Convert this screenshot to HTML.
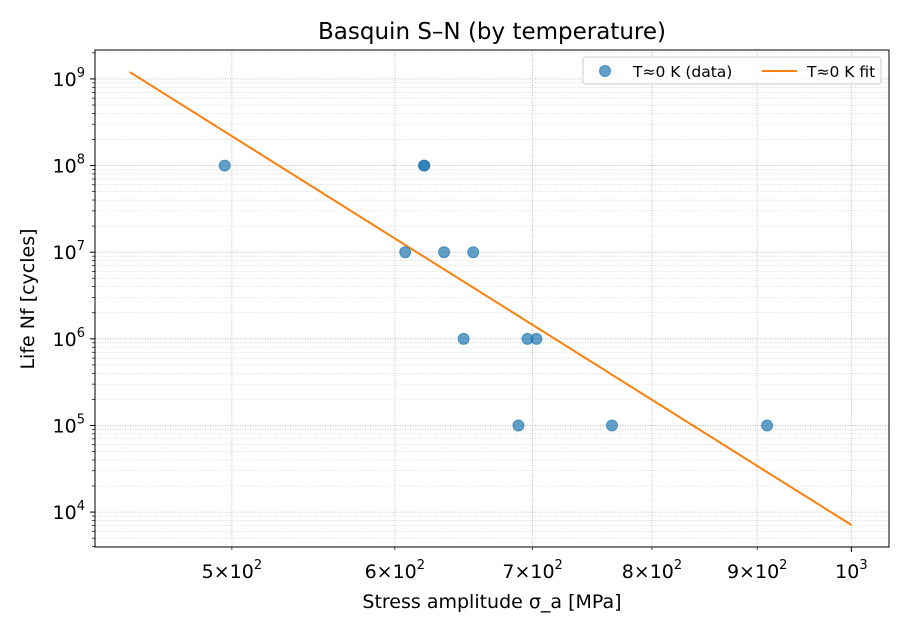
<!DOCTYPE html>
<html><head><meta charset="utf-8"><style>
body{margin:0;background:#fff}
svg{display:block;font-family:"DejaVu Sans","Liberation Sans",sans-serif}
</style></head><body>
<svg id="chart" width="910" height="630" viewBox="0 0 910 630">
<rect width="910" height="630" fill="#fff"/>
<g id="grid"></g>
<g id="fit"></g>
<g id="pts"></g>
<rect x="95" y="50" width="794" height="497" fill="none" stroke="#000" stroke-width="1"/>
<g id="axes"></g>
<text x="492" y="39" text-anchor="middle" font-size="23">Basquin S–N (by temperature)</text>
<text x="492" y="608" text-anchor="middle" font-size="19">Stress amplitude σ_a [MPa]</text>
<text transform="translate(34,299) rotate(-90)" text-anchor="middle" font-size="19">Life Nf [cycles]</text>
<g>
<rect x="583" y="57" width="298" height="27" rx="3" fill="#fff" fill-opacity="0.8" stroke="#ccc"/>
<circle cx="605" cy="71" r="5.5" fill="#1f77b4" fill-opacity="0.7" stroke="#1f77b4" stroke-opacity="0.7"/>
<text x="633" y="77" font-size="15.5">T≈0 K (data)</text>
<line x1="762" y1="71" x2="797" y2="71" stroke="#ff7f0e" stroke-width="2"/>
<text x="807" y="77" font-size="15.5">T≈0 K fit</text>
</g>
</svg>
<script>
const stress = [496, 607, 620, 620, 634, 655, 648, 696, 703, 689, 765, 910];
const life = [1e8, 1e7, 1e8, 1e8, 1e7, 1e7, 1e6, 1e6, 1e6, 1e5, 1e5, 1e5];
const fitStress = [446, 1000];
const fitLife = [1.2e9, 7.1e3];
const xTicks = [500, 600, 700, 800, 900, 1000];
const xTickLabels = ["5", "6", "7", "8", "9", ""];
const yTicks = [1e4, 1e5, 1e6, 1e7, 1e8, 1e9];
const yTickLabels = ["4", "5", "6", "7", "8", "9"];

const L=95,R=889,T=50,B=547;
const xmin=Math.log10(429), xmax=Math.log10(1043);
const ymin=3.597, ymax=9.334;
const X=v=>L+(Math.log10(v)-xmin)/(xmax-xmin)*(R-L);
const Y=v=>B-(Math.log10(v)-ymin)/(ymax-ymin)*(B-T);
const NS="http://www.w3.org/2000/svg";
function mk(tag,attrs,parent){const e=document.createElementNS(NS,tag);for(const k in attrs)e.setAttribute(k,attrs[k]);parent.appendChild(e);return e;}
const grid=document.getElementById('grid'),axes=document.getElementById('axes');
for(let v=500;v<=1000;v+=100){const x=X(v);
 const g=mk('line',{x1:x,x2:x,y1:T,y2:B,stroke:'#b0b0b0','stroke-width':0.8,'stroke-dasharray':'1,1.5'},grid);
 }
for(let e=3;e<=9;e++){for(let m=1;m<=9;m++){const v=m*Math.pow(10,e);const lv=Math.log10(v);if(lv<ymin||lv>ymax)continue;const y=Y(v);
 const g=mk('line',{x1:L,x2:R,y1:y,y2:y,stroke:m===1?'#b0b0b0':'#c8c8c8','stroke-width':m===1?0.8:0.6,'stroke-dasharray':'1,1.5'},grid);
 
 const t=mk('line',{x1:L-(m===1?5:3),x2:L,y1:y,y2:y,stroke:'#000','stroke-width':m===1?1:0.7},axes);
 }}
yTicks.forEach((v,i)=>{const y=Y(v);
 const t=mk('text',{x:L-10,y:y+7,'text-anchor':'end','font-size':19},axes);
 
 t.innerHTML='10<tspan dy="-9" font-size="13">'+yTickLabels[i]+'</tspan>';});
xTicks.forEach((v,i)=>{const x=X(v);
 const t=mk('line',{x1:x,x2:x,y1:B,y2:B+(i===5?5:3),stroke:'#000','stroke-width':i===5?1:0.7},axes);
 
 const lb=mk('text',{x:x,y:B+31,'text-anchor':'middle','font-size':19},axes);
 
 if(xTickLabels[i]) lb.innerHTML=xTickLabels[i]+'×10<tspan dy="-9" font-size="13">2</tspan>';
 else lb.innerHTML='10<tspan dy="-9" font-size="13">3</tspan>';});
const fit=document.getElementById('fit');
const fl=mk('line',{x1:X(fitStress[0]),y1:Y(fitLife[0]),x2:X(fitStress[1]),y2:Y(fitLife[1]),stroke:'#ff7f0e','stroke-width':2},fit);

const pts=document.getElementById('pts');
stress.forEach((s,i)=>{const c=mk('circle',{cx:X(s),cy:Y(life[i]),r:5.5,fill:'#1f77b4','fill-opacity':0.7,stroke:'#1f77b4','stroke-opacity':0.7},pts);
 });
</script>
</body></html>
